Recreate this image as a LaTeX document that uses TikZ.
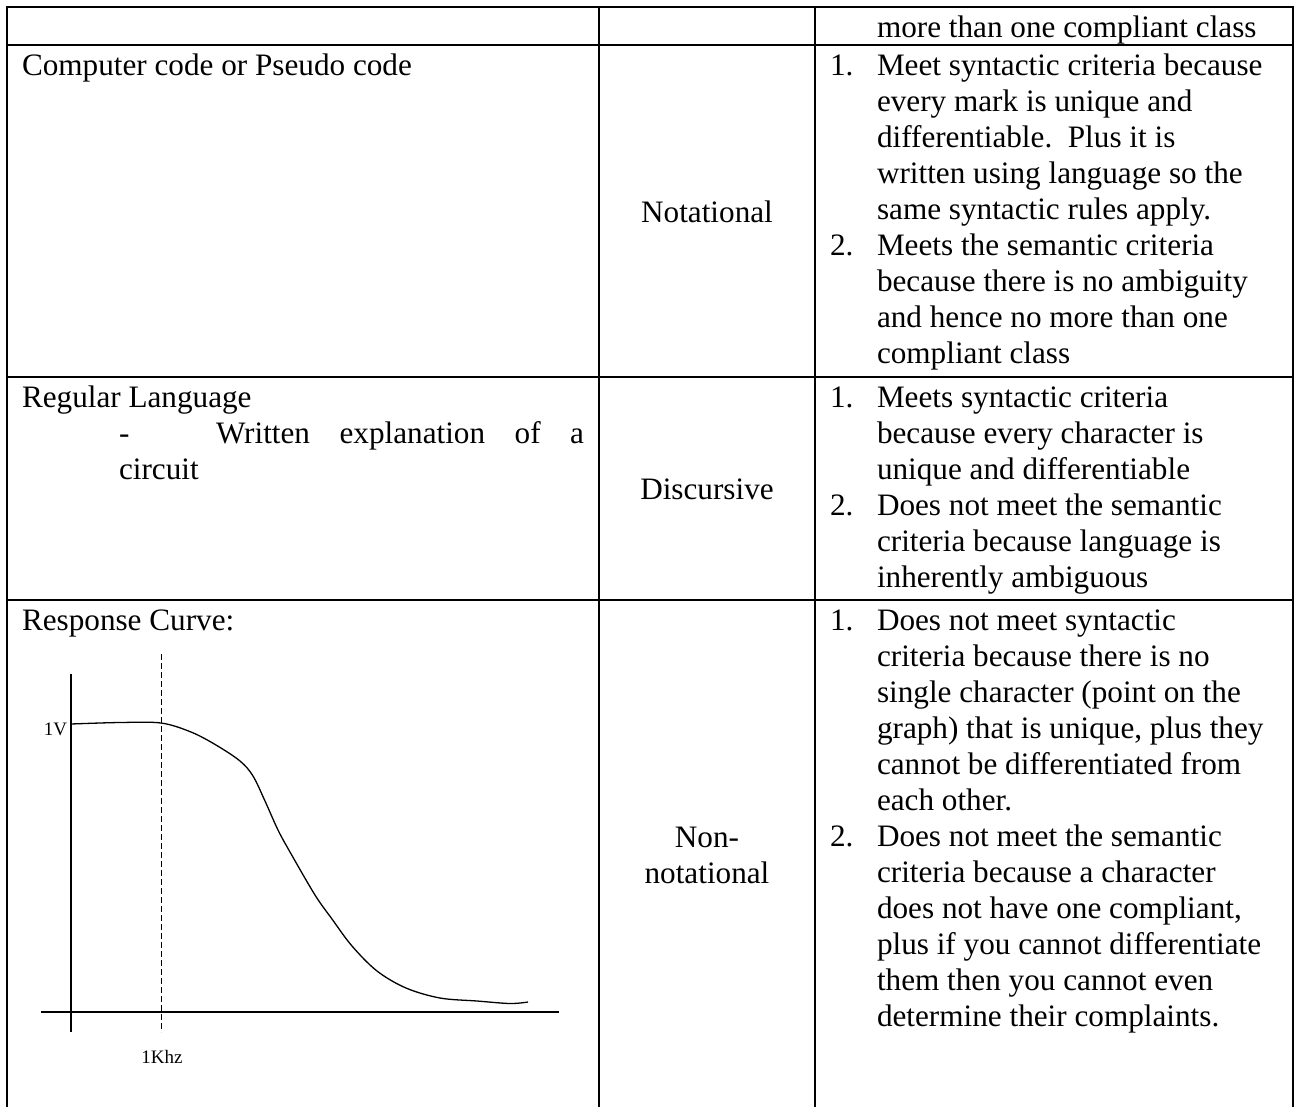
\documentclass[tikz,border=0pt]{standalone}
\usepackage{fontspec}
\setmainfont{Liberation Serif}
\newcommand\bodyfont{\fontsize{31.2}{36}\selectfont}
\newcommand\graphfont{\fontsize{19}{22}\selectfont}
\tikzset{
  cell/.style={anchor=base west, inner sep=0pt, outer sep=0pt, font=\bodyfont},
  midcell/.style={anchor=base, inner sep=0pt, outer sep=0pt, font=\bodyfont},
  gridrule/.style={line width=2.2pt, line cap=rect},
  axisline/.style={line width=1.5pt},
  guideline/.style={line width=1pt, dash pattern=on 6pt off 3pt},
  curveline/.style={line width=1.3pt},
  glabel/.style={inner sep=0pt, outer sep=0pt, font=\graphfont},
}
\begin{document}
\begin{tikzpicture}[x=1pt,y=-1pt]
  \useasboundingbox (0,0) rectangle (1298,1106);

  % table rules
  \draw[gridrule] (7,7) -- (1293,7);
  \draw[gridrule] (7,45) -- (1293,45);
  \draw[gridrule] (7,377) -- (1293,377);
  \draw[gridrule] (7,600) -- (1293,600);
  \foreach \cx in {7,599,815,1293}
    \draw[gridrule] (\cx,7) -- (\cx,1110);

  % row 0 (tail of a previous entry)
  \node[cell] (r0c) at (877,37) {more than one compliant class};

  % row 1
  \node[cell] (r1a) at (22,75) {Computer code or Pseudo code};
  \node[midcell] (r1b) at (707,222) {Notational};
  \node[cell] (r1n1) at (830,75) {1.};
  \foreach \tline [count=\k from 0] in {{Meet syntactic criteria because},{every mark is unique and},{differentiable.\hspace{0.5em}Plus it is},{written using language so the},{same syntactic rules apply.}}
    \node[cell] (r1p\k) at (877,{75+36*\k}) {\tline};
  \node[cell] (r1n2) at (830,255) {2.};
  \foreach \tline [count=\k from 0] in {{Meets the semantic criteria},{because there is no ambiguity},{and hence no more than one},{compliant class}}
    \node[cell] (r1q\k) at (877,{255+36*\k}) {\tline};

  % row 2
  \node[cell] (r2a) at (22,407) {Regular Language};
  \node[cell] (r2dash) at (119,443) {-};
  \node[cell] (r2w) at (216,443) {\hbox to 368pt{Written\hfill explanation\hfill of\hfill a}};
  \node[cell] (r2c) at (119,479) {circuit};
  \node[midcell] (r2b) at (707,499) {Discursive};
  \node[cell] (r2n1) at (830,407) {1.};
  \foreach \tline [count=\k from 0] in {{Meets syntactic criteria},{because every character is},{unique and differentiable}}
    \node[cell] (r2p\k) at (877,{407+36*\k}) {\tline};
  \node[cell] (r2n2) at (830,515) {2.};
  \foreach \tline [count=\k from 0] in {{Does not meet the semantic},{criteria because language is},{inherently ambiguous}}
    \node[cell] (r2q\k) at (877,{515+36*\k}) {\tline};

  % row 3
  \node[cell] (r3a) at (22,630) {Response Curve:};
  \node[midcell] (r3b1) at (707,847) {Non-};
  \node[midcell] (r3b2) at (707,883) {notational};
  \node[cell] (r3n1) at (830,630) {1.};
  \foreach \tline [count=\k from 0] in {{Does not meet syntactic},{criteria because there is no},{single character (point on the},{graph) that is unique, plus they},{cannot be differentiated from},{each other.}}
    \node[cell] (r3p\k) at (877,{630+36*\k}) {\tline};
  \node[cell] (r3n2) at (830,846) {2.};
  \foreach \tline [count=\k from 0] in {{Does not meet the semantic},{criteria because a character},{does not have one compliant,},{plus if you cannot differentiate},{them then you cannot even},{determine their complaints.}}
    \node[cell] (r3q\k) at (877,{846+36*\k}) {\tline};

  % response curve sketch
  \draw[axisline] (71,674) -- (71,1032);
  \draw[axisline] (41,1012) -- (559,1012);
  \draw[guideline] (161,654) -- (161,1032);
  \node[glabel, anchor=base east] (vlabel) at (67,735) {1V};
  \node[glabel, anchor=base] (flabel) at (162,1063) {1Khz};
  \draw[curveline] plot[smooth, tension=0.55] coordinates {
    (71,724) (120,722.5) (161,723) (191,732) (216,745) (240,761)
    (253,776) (265,801) (278,830) (290,852) (315,895) (332,919)
    (352,946) (377,971) (406,988) (440,998) (477,1001) (510,1003.5) (528,1002)};
\end{tikzpicture}
\end{document}
